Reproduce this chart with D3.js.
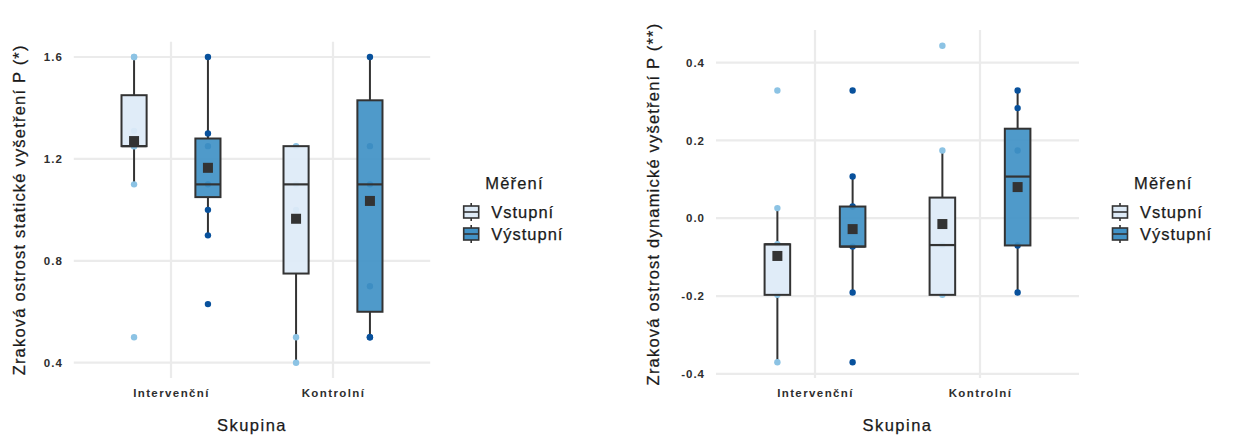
<!DOCTYPE html>
<html><head><meta charset="utf-8">
<script src="https://cdn.jsdelivr.net/npm/d3@7"></script>
<style>
html,body{margin:0;padding:0;background:#fff;}
svg text{font-family:"Liberation Sans",Arial,sans-serif;}
</style></head>
<body>
<svg id="chart" width="1234" height="436"></svg>
<script>
// ---------- data ----------
const groups = ["Intervenční", "Kontrolní"];
const measures = ["Vstupní", "Výstupní"];
const xTitle = "Skupina";
const legendTitle = "Měření";

// order of boxes: Intervenční-Vstupní, Intervenční-Výstupní, Kontrolní-Vstupní, Kontrolní-Výstupní
const staticTitle = "Zraková ostrost statické vyšetření P (*)";
const staticTicks = [0.4, 0.8, 1.2, 1.6];
const staticTickLabels = ["0.4", "0.8", "1.2", "1.6"];
const staticLow    = [1.10, 0.90, 0.40, 0.50];
const staticQ1     = [1.25, 1.05, 0.75, 0.60];
const staticMedian = [1.25, 1.10, 1.10, 1.10];
const staticQ3     = [1.45, 1.28, 1.25, 1.43];
const staticHigh   = [1.60, 1.60, 1.25, 1.60];
const staticMean   = [1.27, 1.165, 0.965, 1.035];
const staticPoints = [
  [1.6, 1.6, 1.31, 1.25, 1.25, 1.1, 0.5],
  [1.6, 1.3, 1.25, 1.1, 1.0, 0.9, 0.63],
  [1.25, 1.1, 1.0, 0.5, 0.4],
  [1.6, 1.25, 1.1, 0.7, 0.5, 0.5]
];

const dynTitle = "Zraková ostrost dynamické vyšetření P (**)";
const dynTicks = [-0.4, -0.2, 0.0, 0.2, 0.4];
const dynTickLabels = ["-0.4", "-0.2", "0.0", "0.2", "0.4"];
const dynLow    = [-0.370, -0.191, -0.197, -0.191];
const dynQ1     = [-0.197, -0.073, -0.197, -0.070];
const dynMedian = [-0.067, -0.073, -0.069, 0.107];
const dynQ3     = [-0.067, 0.030, 0.053, 0.230];
const dynHigh   = [0.026, 0.107, 0.174, 0.328];
const dynMean   = [-0.097, -0.028, -0.015, 0.080];
const dynPoints = [
  [0.328, 0.026, -0.067, -0.197, -0.370],
  [0.328, 0.107, 0.030, -0.073, -0.191, -0.370],
  [0.443, 0.174, -0.069, -0.197],
  [0.328, 0.283, 0.174, -0.070, -0.191]
];

// ---------- styles ----------
const boxFill = {"Vstupní": "#deebf7", "Výstupní": "#4292c6"};
const pointFill = {"Vstupní": "#8cc3e4", "Výstupní": "#08519c"};
const dark = "#333333";
const gridCol = "#ebebeb";

const svg = d3.select("#chart");

function panel(cfg) {
  const g = svg.append("g");
  const x = d3.scalePoint().domain(groups).range([cfg.left, cfg.right]).padding(0.6);
  const step = x.step();
  const allVals = cfg.points.flat().concat(cfg.low, cfg.high);
  const ext = d3.extent(allVals);
  const pad = (ext[1] - ext[0]) * 0.05;
  const y = d3.scaleLinear().domain([ext[0] - pad, ext[1] + pad]).range([cfg.bottom, cfg.top]);
  const dodge = d3.scalePoint().domain(measures).range([-0.228 * step, 0.228 * step]);
  const bw = 0.155 * step;

  // grid
  g.selectAll(".hg").data(cfg.ticks).join("line")
    .attr("x1", cfg.left).attr("x2", cfg.right)
    .attr("y1", d => y(d)).attr("y2", d => y(d))
    .attr("stroke", gridCol).attr("stroke-width", 2.2);
  g.selectAll(".vg").data(groups).join("line")
    .attr("x1", d => x(d)).attr("x2", d => x(d))
    .attr("y1", cfg.top).attr("y2", cfg.bottom)
    .attr("stroke", gridCol).attr("stroke-width", 2.2);

  // axes ticks
  const yAxis = d3.axisLeft(y).tickValues(cfg.ticks)
    .tickFormat((d, i) => cfg.tickLabels[i]).tickSize(0).tickPadding(0);
  const ya = g.append("g").attr("transform", `translate(${cfg.left - 11},0)`).call(yAxis);
  ya.select(".domain").remove();
  ya.selectAll("text").attr("fill", "#2e2e2e").style("font-size", "11.5px")
    .style("font-weight", "bold").style("letter-spacing", "1px")
    .attr("font-family", "Liberation Sans, Arial, sans-serif");

  const xAxis = d3.axisBottom(x).tickSize(0).tickPadding(0);
  const xa = g.append("g").attr("transform", `translate(0,${cfg.bottom + 11})`).call(xAxis);
  xa.select(".domain").remove();
  xa.selectAll("text").attr("fill", "#2e2e2e").style("font-size", "11.5px")
    .style("font-weight", "bold").style("letter-spacing", "1.4px")
    .attr("font-family", "Liberation Sans, Arial, sans-serif");

  // titles
  g.append("text").attr("x", (cfg.left + cfg.right) / 2).attr("y", 431)
    .attr("text-anchor", "middle").attr("fill", "#1a1a1a").style("font-size", "16.5px")
    .style("letter-spacing", "1.5px").attr("stroke", "#1a1a1a").attr("stroke-width", 0.25)
    .text(xTitle);
  g.append("text")
    .attr("transform", `translate(${cfg.titleX},${(cfg.top + cfg.bottom) / 2}) rotate(-90)`)
    .attr("text-anchor", "middle").attr("dy", "0.35em").attr("fill", "#1a1a1a")
    .attr("stroke", "#1a1a1a").attr("stroke-width", 0.25)
    .style("font-size", "16.5px").style("letter-spacing", "1.2px").text(cfg.title);

  const boxes = [];
  groups.forEach((gr, gi) => measures.forEach((m, mi) => {
    const k = gi * 2 + mi;
    boxes.push({g: gr, m: m, cx: x(gr) + dodge(m), lo: cfg.low[k], q1: cfg.q1[k],
      med: cfg.median[k], q3: cfg.q3[k], hi: cfg.high[k], mean: cfg.mean[k], pts: cfg.points[k]});
  }));

  // whiskers
  boxes.forEach(b => {
    g.append("line").attr("x1", b.cx).attr("x2", b.cx).attr("y1", y(b.q3)).attr("y2", y(b.hi))
      .attr("stroke", dark).attr("stroke-width", 2);
    g.append("line").attr("x1", b.cx).attr("x2", b.cx).attr("y1", y(b.q1)).attr("y2", y(b.lo))
      .attr("stroke", dark).attr("stroke-width", 2);
  });
  // points
  boxes.forEach(b => {
    g.selectAll(null).data(b.pts).join("circle")
      .attr("cx", b.cx).attr("cy", d => y(d)).attr("r", 3.2)
      .attr("fill", pointFill[b.m]);
  });
  // boxes
  boxes.forEach(b => {
    g.append("rect").attr("x", b.cx - bw / 2).attr("width", bw)
      .attr("y", y(b.q3)).attr("height", Math.max(0.5, y(b.q1) - y(b.q3)))
      .attr("fill", boxFill[b.m]).attr("fill-opacity", 0.93)
      .attr("stroke", dark).attr("stroke-width", 2);
    g.append("line").attr("x1", b.cx - bw / 2).attr("x2", b.cx + bw / 2)
      .attr("y1", y(b.med)).attr("y2", y(b.med)).attr("stroke", dark).attr("stroke-width", 2.2);
    g.append("rect").attr("x", b.cx - 5).attr("y", y(b.mean) - 5).attr("width", 10).attr("height", 10)
      .attr("fill", dark);
  });

  // legend
  const lg = g.append("g");
  lg.append("text").attr("x", cfg.right + 55).attr("y", 189).attr("fill", "#1a1a1a")
    .attr("stroke", "#1a1a1a").attr("stroke-width", 0.25)
    .style("font-size", "16.5px").style("letter-spacing", "1.2px").text(legendTitle);
  measures.forEach((m, i) => {
    const cy = 212 + i * 22;
    const kx = cfg.right + 41;
    lg.append("line").attr("x1", kx).attr("x2", kx).attr("y1", cy - 9).attr("y2", cy + 9)
      .attr("stroke", dark).attr("stroke-width", 1.6);
    lg.append("rect").attr("x", kx - 7.5).attr("y", cy - 6).attr("width", 15).attr("height", 12)
      .attr("fill", boxFill[m]).attr("stroke", dark).attr("stroke-width", 1.6);
    lg.append("line").attr("x1", kx - 7.5).attr("x2", kx + 7.5).attr("y1", cy).attr("y2", cy)
      .attr("stroke", dark).attr("stroke-width", 1.6);
    lg.append("text").attr("x", cfg.right + 61).attr("y", cy).attr("dy", "0.35em")
      .attr("fill", "#1a1a1a").attr("stroke", "#1a1a1a").attr("stroke-width", 0.25)
      .style("font-size", "16.5px").style("letter-spacing", "1px").text(m);
  });
}

panel({left: 73.8, right: 430.2, top: 41.7, bottom: 378, titleX: 19,
  title: staticTitle, ticks: staticTicks, tickLabels: staticTickLabels,
  low: staticLow, q1: staticQ1, median: staticMedian, q3: staticQ3, high: staticHigh,
  mean: staticMean, points: staticPoints});

panel({left: 716, right: 1079, top: 30, bottom: 378, titleX: 653,
  title: dynTitle, ticks: dynTicks, tickLabels: dynTickLabels,
  low: dynLow, q1: dynQ1, median: dynMedian, q3: dynQ3, high: dynHigh,
  mean: dynMean, points: dynPoints});
</script>
</body></html>
